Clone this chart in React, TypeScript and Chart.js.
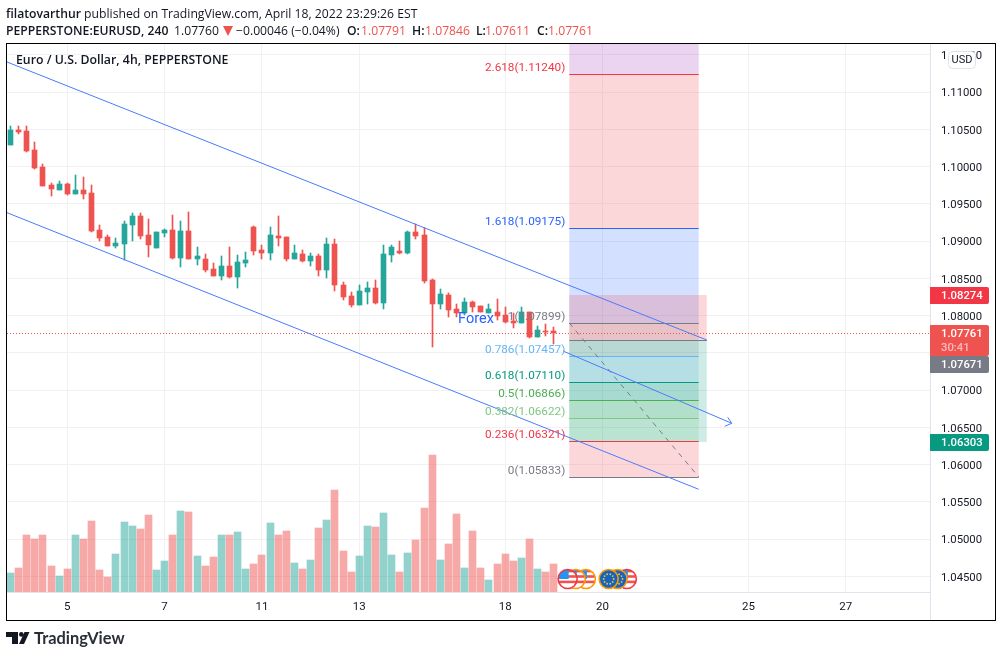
import React, { useEffect, useRef } from "react";
import { Chart, registerables } from "chart.js";

Chart.register(...registerables);

const opens = [1.10289,1.10490,1.10477,1.10222,1.09993,1.09752,1.09685,1.09765,1.09631,1.09685,1.09644,1.09148,1.09054,1.08933,1.08960,1.09215,1.09336,1.09081,1.08906,1.09107,1.09148,1.08772,1.09134,1.08759,1.08759,1.08624,1.08530,1.08665,1.08517,1.08705,1.09188,1.08879,1.08839,1.09067,1.09054,1.08759,1.08826,1.08732,1.08799,1.08611,1.08960,1.08410,1.08262,1.08141,1.08316,1.08369,1.08168,1.08812,1.08866,1.08839,1.09121,1.09081,1.08477,1.08155,1.08275,1.08087,1.08034,1.08181,1.08128,1.08034,1.08047,1.08007,1.07926,1.07900,1.08047,1.07712,1.07792,1.07791];
const highs = [1.10544,1.10544,1.10544,1.10329,1.10034,1.09779,1.09805,1.09779,1.09886,1.09859,1.09752,1.09215,1.09081,1.09040,1.09269,1.09376,1.09376,1.09295,1.09121,1.09161,1.09349,1.09269,1.09389,1.08920,1.08826,1.08705,1.08799,1.08920,1.08812,1.08852,1.09201,1.08946,1.09188,1.09336,1.09054,1.08946,1.08879,1.08839,1.08826,1.09040,1.09027,1.08450,1.08316,1.08410,1.08450,1.08477,1.08946,1.08946,1.09000,1.09134,1.09228,1.09175,1.08490,1.08356,1.08302,1.08155,1.08235,1.08195,1.08128,1.08155,1.08222,1.08114,1.08034,1.08114,1.08047,1.07859,1.07886,1.07846];
const lows = [1.10289,1.10436,1.10195,1.09967,1.09738,1.09604,1.09685,1.09618,1.09631,1.09564,1.09121,1.09000,1.08933,1.08906,1.08745,1.09000,1.09027,1.08785,1.08906,1.09054,1.08759,1.08651,1.08759,1.08678,1.08584,1.08530,1.08477,1.08504,1.08369,1.08651,1.08812,1.08759,1.08745,1.08933,1.08732,1.08759,1.08718,1.08665,1.08530,1.08504,1.08329,1.08208,1.08114,1.08141,1.08155,1.08155,1.08087,1.08718,1.08826,1.08826,1.09027,1.08436,1.07577,1.08087,1.07980,1.07980,1.08007,1.08047,1.08047,1.08034,1.07940,1.07900,1.07832,1.07900,1.07698,1.07712,1.07725,1.07611];
const closes = [1.10490,1.10463,1.10208,1.09980,1.09738,1.09698,1.09765,1.09631,1.09685,1.09631,1.09134,1.09040,1.08933,1.08973,1.09228,1.09336,1.09067,1.08946,1.09121,1.09148,1.08772,1.09134,1.08759,1.08799,1.08611,1.08530,1.08665,1.08517,1.08718,1.08745,1.08866,1.08839,1.09081,1.09040,1.08759,1.08839,1.08732,1.08799,1.08611,1.08960,1.08410,1.08248,1.08141,1.08329,1.08369,1.08168,1.08826,1.08920,1.08839,1.09121,1.09067,1.08463,1.08155,1.08289,1.08074,1.08034,1.08181,1.08114,1.08047,1.08087,1.07994,1.07913,1.07900,1.08047,1.07712,1.07806,1.07779,1.07761];
const volumes = [1900,2400,5700,5300,5700,2600,1600,2300,5700,5300,7100,2200,1500,3800,7000,6600,6300,7700,2200,3100,5700,8100,8000,3600,2600,3500,5700,5700,6000,2300,2800,3700,6900,5700,6100,2900,2300,3200,6400,7200,10200,4100,2000,3600,6600,6500,7900,3700,2000,3900,5200,8400,13700,3200,4800,7800,2400,6100,2400,1200,2800,3800,3100,3400,5300,2300,2000,2800];
const volumeUp = [1,0,0,0,0,0,1,0,1,0,0,0,0,1,1,1,0,0,1,1,0,1,0,1,0,0,1,0,1,1,0,0,1,0,0,1,0,1,0,1,0,0,0,1,1,0,1,1,0,1,0,0,0,1,0,0,1,0,0,1,0,0,0,1,0,1,0,0];

const priceTicks = [1.115,1.11,1.105,1.1,1.095,1.09,1.085,1.08,1.075,1.07,1.065,1.06,1.055,1.05,1.045];
const dayTickIndex = [7,19,31,43,61,73,91,103];
const dayTickLabels = ["5","7","11","13","18","20","25","27"];

const fibRatios = ["2.618","1.618","1","0.786","0.618","0.5","0.382","0.236","0"];
const fibPrices = [1.1124,1.09175,1.07899,1.07457,1.0711,1.06866,1.06622,1.06321,1.05833];
const fibColors = ["#f23645","#2962ff","#787b86","#64b5f6","#089981","#4caf50","#81c784","#f23645","#787b86"];
const fibBandColors = ["rgba(242,54,69,.2)","rgba(41,98,255,.2)","rgba(120,123,134,.2)","rgba(100,181,246,.2)","rgba(8,153,129,.2)","rgba(76,175,80,.2)","rgba(129,199,132,.2)","rgba(242,54,69,.2)"];
const fibTopPrice = 1.13305;
const fibStartIdx = 68.9;
const fibEndIdx = 84.86;

const posStartIdx = 68.9;
const posEndIdx = 85.85;
const posTarget = 1.08274;
const posEntry = 1.07671;
const posStop = 1.06303;

const upperChannel = [{ x: -0.43, y: 1.11403 }, { x: 85.85, y: 1.07671 }];
const lowerChannel = [{ x: -0.43, y: 1.0938 }, { x: 84.86, y: 1.05667 }];
const arrowLine = [{ x: 68.13, y: 1.07523 }, { x: 88.93, y: 1.06553 }];
const fibTrend = [{ x: 68.9, y: 1.07899 }, { x: 84.86, y: 1.05833 }];
const lastPrice = 1.07761;
const forexLabel = { x: 57.4, y: 1.07953, text: "Forex" };
const eventsUS = [68.7, 69.7, 70.95];
const eventsEU = [73.76, 74.85, 76];

const UP = "#26a69a";
const DOWN = "#ef5350";
const GRID = "#f1f1f3";
const FONT = "Roboto, sans-serif";
const idx = opens.map((_, i) => i);

const overlay = {
  id: "overlay",
  afterDatasetsUpdate(chart: any) {
    const xs = chart.scales.x;
    chart.getSortedVisibleDatasetMetas().forEach((m: any) => {
      if (m.type === "bar") {
        m.data.forEach((el: any, i: number) => {
          const px = xs.getPixelForValue(i);
          el.x = Math.floor(px) + 0.5;
          el.y = Math.round(el.y);
          el.base = Math.round(el.base);
        });
      } else if (m.data.length === 2 && m.data[0].y === m.data[1].y) {
        const yy = Math.round(m.data[0].y) + 0.5;
        m.data[0].y = yy;
        m.data[1].y = yy;
      }
    });
  },
  beforeDatasetsDraw(chart: any) {
    const { ctx, chartArea: a, scales: { x, y } } = chart;
    ctx.save();
    ctx.beginPath();
    ctx.rect(a.left, a.top, a.right - a.left, a.bottom - a.top);
    ctx.clip();
    const x0 = x.getPixelForValue(fibStartIdx), x1 = x.getPixelForValue(fibEndIdx);
    const yp = (p: number) => Math.round(y.getPixelForValue(p));
    ctx.fillStyle = "rgba(156,39,176,.2)";
    ctx.fillRect(x0, yp(fibTopPrice), x1 - x0, yp(fibPrices[0]) - yp(fibTopPrice));
    fibBandColors.forEach((c, i) => {
      const t = yp(fibPrices[i]), b = yp(fibPrices[i + 1]);
      ctx.fillStyle = c;
      ctx.fillRect(x0, t, x1 - x0, b - t);
    });
    const p0 = x.getPixelForValue(posStartIdx), p1 = x.getPixelForValue(posEndIdx);
    const yT = yp(posTarget), yE = yp(posEntry), yS = yp(posStop);
    ctx.fillStyle = "rgba(242,54,69,.2)";
    ctx.fillRect(p0, yT, p1 - p0, yE - yT);
    ctx.fillStyle = "rgba(8,153,129,.2)";
    ctx.fillRect(p0, yE, p1 - p0, yS - yE);
    ctx.restore();
  },
  afterDatasetsDraw(chart: any) {
    const { ctx, chartArea: a, scales: { x, y } } = chart;
    ctx.save();
    ctx.font = `11.75px ${FONT}`;
    ctx.textAlign = "right";
    ctx.textBaseline = "middle";
    const lx = x.getPixelForValue(fibStartIdx) - 4;
    fibRatios.forEach((r, i) => {
      ctx.fillStyle = fibColors[i];
      ctx.fillText(`${r}(${fibPrices[i].toFixed(5)})`, lx, y.getPixelForValue(fibPrices[i]) - 6);
    });
    ctx.textAlign = "center";
    ctx.font = `14.5px ${FONT}`;
    ctx.fillStyle = "#2962ff";
    ctx.fillText(forexLabel.text, x.getPixelForValue(forexLabel.x), y.getPixelForValue(forexLabel.y));
    const tipX = x.getPixelForValue(arrowLine[1].x), tipY = y.getPixelForValue(arrowLine[1].y);
    ctx.strokeStyle = "#4a7bff";
    ctx.lineWidth = 1;
    ctx.beginPath();
    ctx.moveTo(tipX - 4, tipY - 6);
    ctx.lineTo(tipX, tipY);
    ctx.lineTo(tipX - 7, tipY + 3);
    ctx.stroke();
    const cy = a.bottom - 13;
    const flag = (cx: number, kind: string, ring: string) => {
      const r = 9.5;
      ctx.save();
      ctx.beginPath();
      ctx.arc(cx, cy, r, 0, Math.PI * 2);
      ctx.fillStyle = "#fff";
      ctx.fill();
      ctx.clip();
      if (kind === "US") {
        ctx.fillStyle = "#ef5350";
        for (let k = -8; k <= 8; k += 5.4) ctx.fillRect(cx - r, cy + k - 1.2, 2 * r, 2.6);
        ctx.fillStyle = "#2196f3";
        ctx.fillRect(cx - r, cy - r, r + 1, r);
      } else {
        ctx.fillStyle = "#1565c0";
        ctx.fillRect(cx - r, cy - r, 2 * r, 2 * r);
        ctx.fillStyle = "#fbc02d";
        for (let k = 0; k < 10; k++) {
          ctx.beginPath();
          ctx.arc(cx + 5 * Math.cos((k * Math.PI) / 5), cy + 5 * Math.sin((k * Math.PI) / 5), 0.9, 0, Math.PI * 2);
          ctx.fill();
        }
      }
      ctx.restore();
      ctx.beginPath();
      ctx.arc(cx, cy, r, 0, Math.PI * 2);
      ctx.strokeStyle = ring;
      ctx.lineWidth = 1.6;
      ctx.stroke();
    };
    flag(x.getPixelForValue(eventsUS[2]), "US", "#ff9800");
    flag(x.getPixelForValue(eventsUS[1]), "US", "#ff9800");
    flag(x.getPixelForValue(eventsUS[0]), "US", "#f23645");
    flag(x.getPixelForValue(eventsEU[2]), "US", "#f23645");
    flag(x.getPixelForValue(eventsEU[1]), "EU", "#ff9800");
    flag(x.getPixelForValue(eventsEU[0]), "EU", "#ff9800");
    ctx.restore();
  },
  afterDraw(chart: any) {
    const { ctx, chartArea: a, scales: { y } } = chart;
    ctx.save();
    ctx.strokeStyle = "#e0e3eb";
    ctx.lineWidth = 1;
    ctx.beginPath();
    ctx.moveTo(a.right + 0.5, a.top);
    ctx.lineTo(a.right + 0.5, 620);
    ctx.stroke();
    const badge = (py: number, h: number, color: string, lines: [string, string][]) => {
      ctx.fillStyle = color;
      ctx.beginPath();
      ctx.roundRect(a.right, py, 59, h, [0, 2, 2, 0]);
      ctx.fill();
      ctx.textAlign = "left";
      ctx.textBaseline = "middle";
      ctx.font = `500 11.3px ${FONT}`;
      lines.forEach((l, i) => {
        ctx.fillStyle = l[1];
        ctx.fillText(l[0], 941, py + 9 + i * 14);
      });
    };
    badge(Math.round(y.getPixelForValue(posTarget)) - 8, 17, "#f23645", [[posTarget.toFixed(5), "#fff"]]);
    badge(Math.round(y.getPixelForValue(lastPrice)) - 8, 31, "#ef5350", [[lastPrice.toFixed(5), "#fff"], ["30:41", "rgba(255,255,255,.6)"]]);
    badge(Math.round(y.getPixelForValue(lastPrice)) + 23, 17, "#787b86", [[posEntry.toFixed(5), "#fff"]]);
    badge(Math.round(y.getPixelForValue(posStop)) - 8, 17, "#089981", [[posStop.toFixed(5), "#fff"]]);
    ctx.fillStyle = "#fff";
    ctx.strokeStyle = "#e0e3eb";
    ctx.beginPath();
    ctx.roundRect(948.5, 51.5, 27, 17, 4);
    ctx.fill();
    ctx.stroke();
    ctx.fillStyle = "#131722";
    ctx.textAlign = "center";
    ctx.textBaseline = "middle";
    ctx.font = `11px ${FONT}`;
    ctx.fillText("USD", 962, 60.5);
    ctx.restore();
  },
};

function line(data: any[], color: string, order: number, extra: any = {}) {
  return { type: "line", data, borderColor: color, borderWidth: 1, pointRadius: 0, order, yAxisID: "y", xAxisID: "x", ...extra };
}

export default function App() {
  const ref = useRef<HTMLCanvasElement>(null);
  useEffect(() => {
    document.body.style.margin = "0";
    const fibLines = fibPrices.map((p, i) =>
      line([{ x: fibStartIdx, y: p }, { x: fibEndIdx, y: p }], fibColors[i], 3)
    );
    const chart = new Chart(ref.current as HTMLCanvasElement, {
      type: "bar",
      data: {
        datasets: [
          {
            data: idx.map((i) => ({ x: i, y: volumes[i] })),
            backgroundColor: volumeUp.map((u) => (u ? "rgba(38,166,154,.5)" : "rgba(239,83,80,.5)")),
            barThickness: 7,
            grouped: false,
            yAxisID: "y1",
            order: 10,
          },
          {
            data: idx.map((i) => ({ x: i, y: [lows[i], highs[i]] })),
            backgroundColor: idx.map((i) => (closes[i] >= opens[i] ? UP : DOWN)),
            barThickness: 1,
            grouped: false,
            yAxisID: "y",
            order: 9,
          },
          {
            data: idx.map((i) => ({ x: i, y: [opens[i], closes[i]] })),
            backgroundColor: idx.map((i) => (closes[i] >= opens[i] ? UP : DOWN)),
            barThickness: 5,
            grouped: false,
            yAxisID: "y",
            order: 8,
          },
          line([{ x: -0.43, y: lastPrice }, { x: 113.38, y: lastPrice }], DOWN, 7, { borderDash: [1, 2] }),
          ...fibLines,
          line([{ x: posStartIdx, y: posEntry }, { x: posEndIdx, y: posEntry }], "#787b86", 3),
          line(fibTrend, "#787b86", 2, { borderDash: [5, 5] }),
          line(upperChannel, "#4a7bff", 1),
          line(lowerChannel, "#4a7bff", 1),
          line(arrowLine, "#4a7bff", 1),
        ] as any,
      },
      options: {
        responsive: false,
        animation: false,
        devicePixelRatio: 1,
        layout: { padding: { left: 7, top: 44, right: 0, bottom: 0 } },
        plugins: { legend: { display: false }, tooltip: { enabled: false } },
        events: [],
        scales: {
          x: {
            type: "linear",
            min: -0.4316,
            max: 113.38,
            offset: false,
            grid: { color: GRID, offset: false, drawTicks: false },
            border: { color: "#e0e3eb" },
            afterBuildTicks(s: any) {
              s.ticks = dayTickIndex.map((v) => ({ value: v }));
            },
            afterFit(s: any) {
              s.height = 65;
            },
            ticks: {
              autoSkip: false,
              maxRotation: 0,
              padding: 8,
              color: "#131722",
              font: { family: "Roboto", size: 11.5 },
              callback: (v: any) => dayTickLabels[dayTickIndex.indexOf(Number(v))] ?? "",
            },
          },
          y: {
            type: "linear",
            position: "right",
            min: 1.042886,
            max: 1.116443,
            grid: { color: GRID, drawTicks: false },
            border: { color: "#e0e3eb" },
            afterBuildTicks(s: any) {
              s.ticks = priceTicks.map((v) => ({ value: v }));
            },
            afterFit(s: any) {
              s.width = 71;
            },
            ticks: {
              padding: 11,
              labelOffset: 1.5,
              color: "#131722",
              font: { family: "Roboto", size: 11.3 },
              callback: (v: any) => Number(v).toFixed(5),
            },
          },
          y1: { type: "linear", display: false, min: 0, max: 54800 },
        },
      } as any,
      plugins: [overlay as any],
    });
    return () => chart.destroy();
  }, []);

  const abs = (left: number, top: number, extra: React.CSSProperties = {}): React.CSSProperties => ({
    position: "absolute",
    left,
    top,
    whiteSpace: "nowrap",
    fontFamily: "'Open Sans', sans-serif",
    fontSize: 12.2,
    lineHeight: "16px",
    color: "#131722",
    ...extra,
  });
  const bold = { fontWeight: 600 };
  const red = { color: DOWN };
  return (
    <div style={{ position: "absolute", left: 0, top: 0, width: 1001, height: 657, background: "#fff", overflow: "hidden" }}>
      <canvas ref={ref} width={1001} height={657} style={{ position: "absolute", left: 0, top: 0, width: 1001, height: 657 }} />
      <div style={{ position: "absolute", left: 6, top: 43, width: 988, height: 576, border: "1px solid #000" }} />
      <div style={abs(6, 6)}><span style={bold}>filatovarthur</span> published on TradingView.com, April 18, 2022 23:29:26 EST</div>
      <div style={abs(6, 23, bold)}>PEPPERSTONE:EURUSD, 240</div>
      <div style={abs(174, 23)}>1.07760</div>
      <svg width="10" height="10" viewBox="0 0 10 10" style={{ position: "absolute", left: 223, top: 26 }}><path d="M0 0H10L5 10Z" fill={DOWN} /></svg>
      <div style={abs(236, 23)}>−0.00046 (−0.04%)</div>
      <div style={abs(347, 23, bold)}>O:</div>
      <div style={abs(361, 23, red)}>1.07791</div>
      <div style={abs(412, 23, bold)}>H:</div>
      <div style={abs(425, 23, red)}>1.07846</div>
      <div style={abs(476, 23, bold)}>L:</div>
      <div style={abs(485, 23, red)}>1.07611</div>
      <div style={abs(537, 23, bold)}>C:</div>
      <div style={abs(548, 23, red)}>1.07761</div>
      <div style={abs(16, 52, { fontWeight: 600, fontSize: 12.3 })}>Euro / U.S. Dollar, 4h, PEPPERSTONE</div>
      <svg width="30" height="16" viewBox="0 0 30 16" style={{ position: "absolute", left: 5, top: 631 }}>
        <path d="M1 1H13V13H7V6H1Z" fill="#131722" />
        <circle cx="16.3" cy="3.4" r="2.3" fill="#131722" />
        <path d="M19.5 1H24.5L19 13H14Z" fill="#131722" />
      </svg>
      <div style={abs(34, 628, { fontFamily: "Lato, sans-serif", fontWeight: 700, fontSize: 16.4, lineHeight: "19px", color: "#2a2e39" })}>TradingView</div>
    </div>
  );
}
